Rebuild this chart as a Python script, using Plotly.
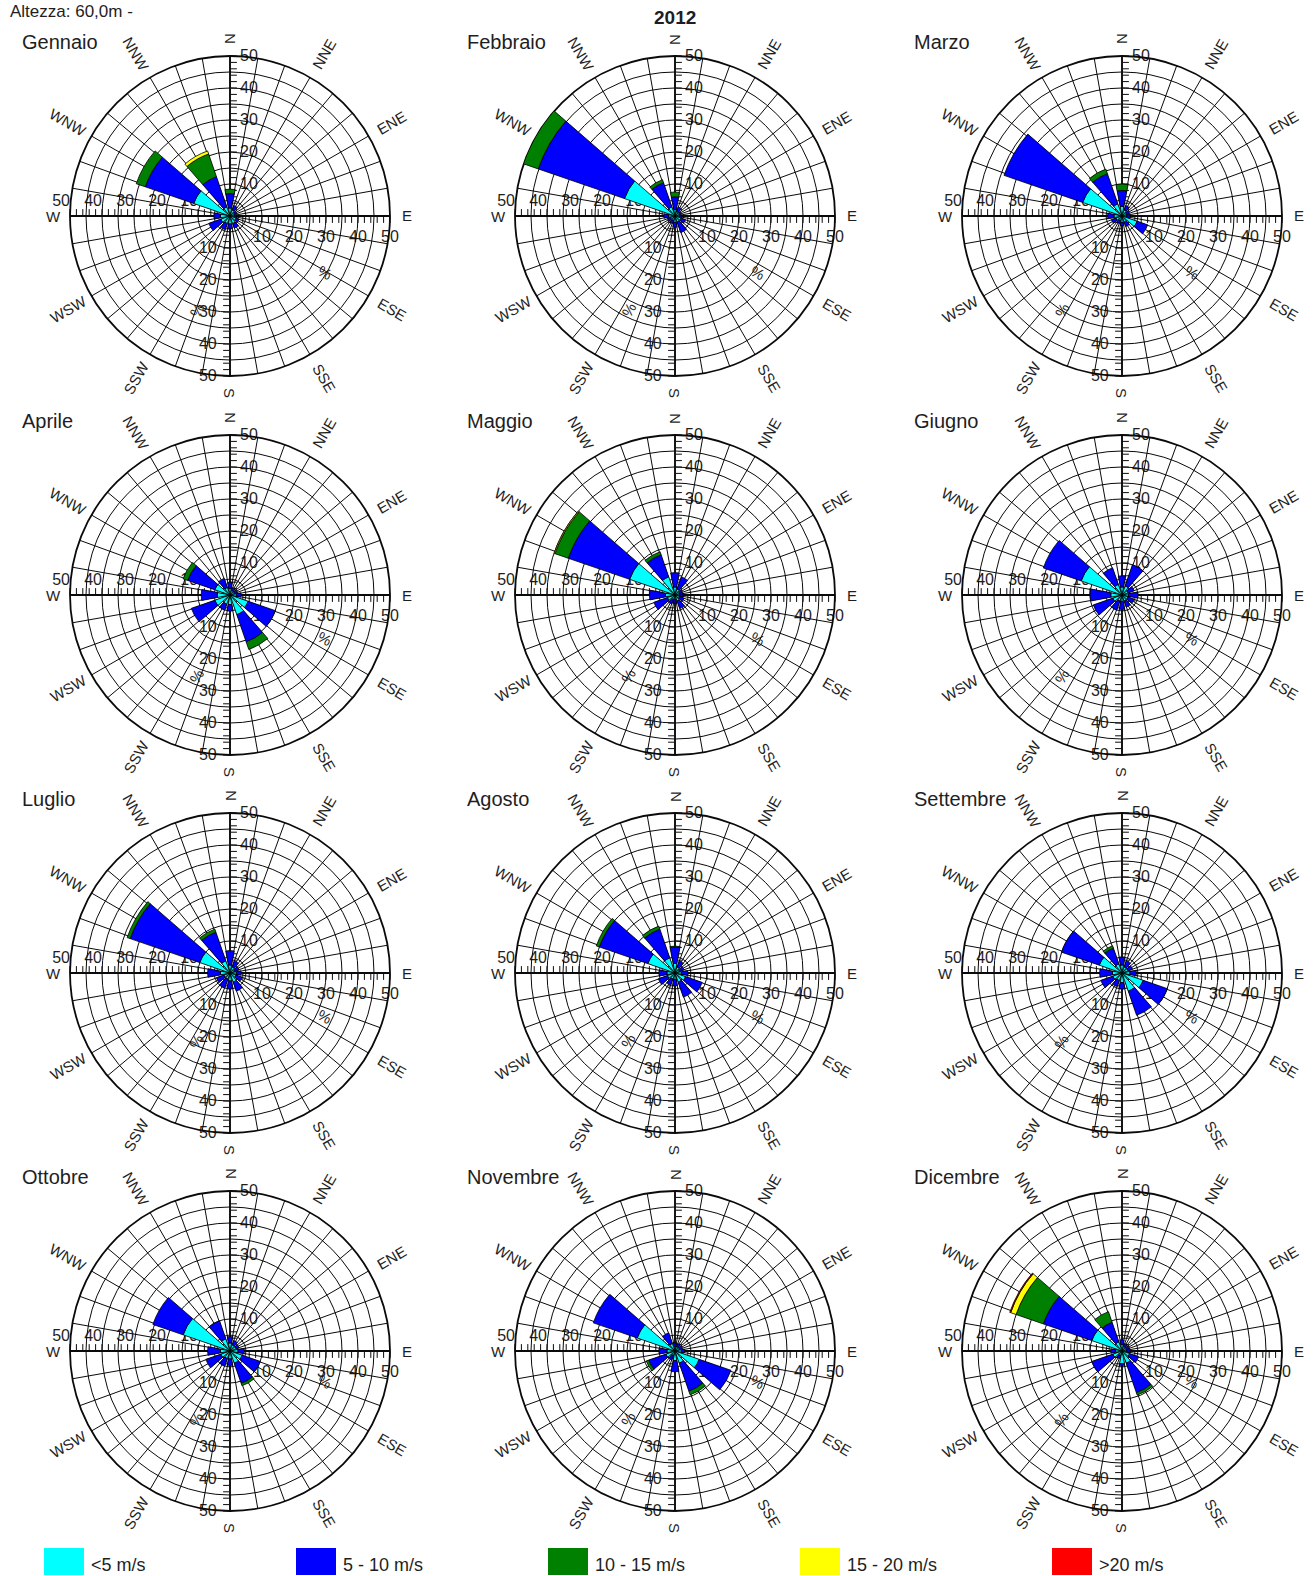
import math
import plotly.graph_objects as go

# ---------------------------------------------------------------------------
# Data: monthly wind roses, 12 sectors of 30 degrees, frequency in percent
# Column order follows `sectors`.
# ---------------------------------------------------------------------------
sectors = ["N", "NNE", "ENE", "E", "ESE", "SSE", "S", "SSW", "WSW", "W", "WNW", "NNW"]
sector_deg = [0, 30, 60, 90, 120, 150, 180, 210, 240, 270, 300, 330]

months = ["Gennaio", "Febbraio", "Marzo", "Aprile", "Maggio", "Giugno",
          "Luglio", "Agosto", "Settembre", "Ottobre", "Novembre", "Dicembre"]

speed_classes = ["<5 m/s", "5 - 10 m/s", "10 - 15 m/s", "15 - 20 m/s", ">20 m/s"]
class_colors = ["#00FFFF", "#0000FF", "#008000", "#FFFF00", "#FF0000"]

#            N    NNE  ENE  E    ESE  SSE  S    SSW  WSW  W    WNW   NNW
freq_lt5 = [
    [2.5, 2.0, 1.5, 1.5, 2.0, 2.5, 2.5, 2.5, 3.0, 3.0, 12.0, 3.0],   # Gennaio
    [2.0, 1.5, 1.5, 1.5, 2.0, 2.0, 2.0, 1.5, 1.5, 2.0, 16.7, 3.0],   # Febbraio
    [3.0, 2.0, 1.5, 1.5, 5.0, 2.0, 2.0, 1.5, 2.0, 2.5, 13.0, 4.0],   # Marzo
    [2.0, 1.5, 1.5, 2.0, 6.0, 6.5, 3.0, 3.0, 5.0, 4.0, 5.0, 2.5],    # Aprile
    [2.5, 2.0, 1.5, 1.5, 1.5, 2.0, 1.5, 1.5, 2.5, 3.0, 15.0, 6.0],   # Maggio
    [2.5, 3.0, 2.0, 2.0, 2.0, 2.0, 2.0, 2.0, 3.0, 3.5, 13.5, 3.5],   # Giugno
    [2.5, 2.0, 1.5, 2.0, 2.0, 3.0, 2.5, 2.0, 2.0, 3.0, 10.0, 4.0],   # Luglio
    [3.0, 2.0, 1.5, 2.0, 3.5, 3.0, 2.0, 2.0, 2.5, 2.5, 9.0, 5.0],    # Agosto
    [2.5, 2.0, 2.0, 2.5, 7.0, 6.0, 3.0, 2.5, 3.0, 3.0, 7.5, 3.0],    # Settembre
    [2.5, 2.0, 2.0, 2.5, 4.0, 4.0, 2.5, 2.5, 3.0, 3.0, 15.5, 4.0],   # Ottobre
    [1.5, 1.5, 1.5, 2.0, 8.0, 4.0, 3.0, 1.5, 3.0, 2.5, 12.5, 2.5],   # Novembre
    [2.0, 1.5, 1.5, 1.5, 2.5, 4.0, 4.0, 1.5, 3.0, 2.0, 10.0, 3.0],   # Dicembre
]
freq_5_10 = [
    [4.5, 1.5, 0.8, 0.5, 1.0, 1.5, 1.5, 2.0, 4.0, 2.0, 16.0, 10.0],
    [4.0, 1.5, 0.5, 0.5, 1.5, 3.5, 1.5, 1.0, 1.0, 1.5, 28.5, 8.0],
    [5.0, 1.5, 1.0, 1.0, 3.5, 1.5, 1.0, 1.0, 1.5, 2.0, 26.0, 10.0],
    [2.0, 1.0, 1.0, 1.5, 9.0, 9.0, 2.0, 2.0, 7.8, 5.0, 9.0, 3.0],
    [4.5, 4.0, 1.0, 1.0, 1.5, 2.5, 1.0, 1.5, 4.5, 5.0, 20.3, 7.3],
    [3.5, 7.0, 2.0, 3.0, 2.0, 2.0, 2.5, 3.0, 6.5, 6.5, 12.5, 5.5],
    [4.5, 2.0, 1.5, 1.5, 2.0, 3.0, 2.5, 3.0, 2.5, 4.0, 23.0, 9.5],
    [5.1, 2.0, 1.5, 2.0, 5.5, 5.0, 2.0, 2.0, 3.0, 2.5, 16.0, 9.5],
    [2.5, 2.0, 1.5, 2.0, 8.0, 8.0, 2.0, 2.0, 4.0, 4.0, 12.5, 5.2],
    [2.0, 1.5, 1.0, 2.0, 6.0, 6.7, 2.0, 2.5, 5.0, 4.0, 10.0, 6.0],
    [1.0, 1.0, 1.0, 1.0, 10.5, 9.3, 3.5, 1.5, 5.7, 2.5, 14.5, 3.5],
    [1.5, 1.0, 1.0, 1.0, 3.0, 9.8, 0.5, 1.0, 7.0, 1.5, 16.0, 6.5],
]
freq_10_15 = [
    [1.4, 0, 0, 0, 0, 0, 0, 0, 0, 0, 3.0, 7.5],
    [1.5, 0, 0, 0, 0, 0, 0, 0, 0, 0, 5.0, 1.0],
    [2.0, 0, 0, 0, 0, 0, 0, 0, 0, 0, 0, 1.5],
    [0, 0, 0, 0, 0, 2.5, 0, 0, 0, 0, 1.5, 0],
    [0, 0, 0, 0, 0, 0, 0, 0, 0, 0, 4.4, 1.0],
    [0, 0, 0, 0, 0, 0, 0, 0, 0, 0, 0, 0],
    [0, 0, 0, 0, 0, 0, 0, 0, 0, 0, 1.0, 1.0],
    [0.3, 0, 0, 0, 0, 0, 0, 0, 0, 0, 1.0, 1.0],
    [0, 0, 0, 0, 0, 0, 0, 0, 0, 0, 0, 0.8],
    [0, 0, 0, 0, 0, 0.8, 0, 0, 0, 0, 0, 0],
    [0, 0, 0, 0, 0, 1.2, 0, 0, 0.8, 0, 0, 0],
    [0, 0, 0, 0, 0, 0.8, 0, 0, 0, 0, 9.0, 3.5],
]
freq_15_20 = [
    [0, 0, 0, 0, 0, 0, 0, 0, 0, 0, 0, 1.0],
    [0, 0, 0, 0, 0, 0, 0, 0, 0, 0, 0.3, 0],
    [0, 0, 0, 0, 0, 0, 0, 0, 0, 0, 0, 0],
    [0, 0, 0, 0, 0, 0, 0, 0, 0, 0, 0, 0],
    [0, 0, 0, 0, 0, 0, 0, 0, 0, 0, 0.3, 0],
    [0, 0, 0, 0, 0, 0, 0, 0, 0, 0, 0, 0],
    [0, 0, 0, 0, 0, 0, 0, 0, 0, 0, 0, 0],
    [0, 0, 0, 0, 0, 0, 0, 0, 0, 0, 0, 0],
    [0, 0, 0, 0, 0, 0, 0, 0, 0, 0, 0, 0],
    [0, 0, 0, 0, 0, 0, 0, 0, 0, 0, 0, 0],
    [0, 0, 0, 0, 0, 0, 0, 0, 0, 0, 0, 0],
    [0, 0, 0, 0, 0, 0, 0, 0, 0, 0, 1.8, 0],
]
freq_gt20 = [
    [0, 0, 0, 0, 0, 0, 0, 0, 0, 0, 0, 0],
    [0, 0, 0, 0, 0, 0, 0, 0, 0, 0, 0, 0],
    [0, 0, 0, 0, 0, 0, 0, 0, 0, 0, 0, 0],
    [0, 0, 0, 0, 0, 0, 0, 0, 0, 0, 0, 0],
    [0, 0, 0, 0, 0, 0, 0, 0, 0, 0, 0, 0],
    [0, 0, 0, 0, 0, 0, 0, 0, 0, 0, 0, 0],
    [0, 0, 0, 0, 0, 0, 0, 0, 0, 0, 0, 0],
    [0, 0, 0, 0, 0, 0, 0, 0, 0, 0, 0, 0],
    [0, 0, 0, 0, 0, 0, 0, 0, 0, 0, 0, 0],
    [0, 0, 0, 0, 0, 0, 0, 0, 0, 0, 0, 0],
    [0, 0, 0, 0, 0, 0, 0, 0, 0, 0, 0, 0],
    [0, 0, 0, 0, 0, 0, 0, 0, 0, 0, 0.3, 0],
]
class_freqs = [freq_lt5, freq_5_10, freq_10_15, freq_15_20, freq_gt20]

radial_max = 50
ring_step = 5
ruler_step = 2
label_step = 10

# ---------------------------------------------------------------------------
# Page geometry (pixels)
# ---------------------------------------------------------------------------
W, H = 1315, 1576
col_cx = [230, 675, 1122]
row_cy = [216, 595, 973, 1351]
R = 160  # radius of the 50 % ring

FONT = "Arial, Liberation Sans, sans-serif"
INK = "#0a0a0a"
TEXT = "#1e1e1e"


def px(x):
    return x / W


def py(y):
    return 1 - y / H


def polar_name(n):
    return "polar" if n == 1 else f"polar{n}"


fig = go.Figure()
layout_polars = {}
annotations = []

# radial axes drawn along the four cardinal directions:
# (plotly angle, tick-label angle)
cardinal_axes = [(90, 90), (0, 0), (270, -90), (180, 180)]

ruler_vals = list(range(ruler_step, radial_max + 1, ruler_step))
ruler_text = [str(v) if v % label_step == 0 else "" for v in ruler_vals]

for k, month in enumerate(months):
    cx = col_cx[k % 3]
    cy = row_cy[k // 3]
    domain = dict(x=[px(cx - R), px(cx + R)], y=[py(cy + R), py(cy - R)])
    base = 5 * k

    # overlay subplots carrying the graduated cardinal axes
    for j, (ang, tang) in enumerate(cardinal_axes):
        sid = polar_name(base + j + 1)
        layout_polars[sid] = dict(
            domain=domain,
            bgcolor="rgba(0,0,0,0)",
            radialaxis=dict(
                range=[0, radial_max], angle=ang, side="clockwise", tickangle=tang,
                tickvals=ruler_vals, ticktext=ruler_text,
                ticks="outside", ticklen=6, tickwidth=1.1, tickcolor=INK,
                tickfont=dict(family=FONT, size=16, color=TEXT),
                showgrid=False, showline=True, linecolor=INK, linewidth=1.8,
            ),
            angularaxis=dict(visible=False, direction="clockwise", rotation=90),
        )
        fig.add_trace(go.Scatterpolar(r=[0], theta=[0], mode="markers",
                                      marker=dict(opacity=0), hoverinfo="skip",
                                      showlegend=False, subplot=sid))

    # main subplot: rings, spokes and stacked sector bars
    sid = polar_name(base + 5)
    layout_polars[sid] = dict(
        domain=domain,
        bgcolor="rgba(0,0,0,0)",
        barmode="stack",
        radialaxis=dict(
            range=[0, radial_max],
            tickvals=list(range(ring_step, radial_max + 1, ring_step)),
            showticklabels=False, ticks="", showline=False,
            gridcolor=INK, gridwidth=1.4, layer="below traces",
        ),
        angularaxis=dict(
            direction="clockwise", rotation=90,
            tickvals=list(range(0, 360, 10)), showticklabels=False, ticks="",
            gridcolor=INK, gridwidth=1.4,
            showline=True, linecolor=INK, linewidth=1.8, layer="below traces",
        ),
    )
    for name, color, freq in zip(speed_classes, class_colors, class_freqs):
        vals = [v if v > 0 else None for v in freq[k]]
        fig.add_trace(go.Barpolar(
            r=vals, theta=sector_deg, width=[22] * len(sector_deg),
            name=name, marker=dict(color=color, line=dict(color="#000", width=0.8)),
            showlegend=False, subplot=sid,
        ))

    # sector names around the rim, turned along the radius
    for name, b in zip(sectors, sector_deg):
        rl = R + (17 if len(name) == 1 else 27)
        x = cx + rl * math.sin(math.radians(b))
        y = cy - rl * math.cos(math.radians(b))
        ta = b - 90 if 0 < b <= 180 else (b - 270 if b > 180 else -90)
        annotations.append(dict(
            x=px(x), y=py(y), xref="paper", yref="paper", text=name,
            showarrow=False, textangle=ta, xanchor="center", yanchor="middle",
            font=dict(family=FONT, size=15, color=TEXT),
        ))

    # unit marks on two diagonals
    for b, rl, ta in [(118, 93, 28), (210, 94, -60)]:
        x = cx + rl * math.sin(math.radians(b))
        y = cy - rl * math.cos(math.radians(b))
        annotations.append(dict(
            x=px(x), y=py(y), xref="paper", yref="paper", text="%",
            showarrow=False, textangle=ta,
            font=dict(family=FONT, size=15, color=TEXT),
        ))

    # month title
    annotations.append(dict(
        x=px(cx - 210), y=py(cy - 174), xref="paper", yref="paper", text=month,
        showarrow=False, xanchor="left", yanchor="middle",
        font=dict(family=FONT, size=20, color=TEXT),
    ))

# page header
annotations.append(dict(x=px(8), y=py(12), xref="paper", yref="paper",
                        text="Altezza: 60,0m -", showarrow=False,
                        xanchor="left", yanchor="middle",
                        font=dict(family=FONT, size=17, color=TEXT)))
annotations.append(dict(x=px(675), y=py(17), xref="paper", yref="paper",
                        text="<b>2012</b>", showarrow=False,
                        xanchor="center", yanchor="middle",
                        font=dict(family=FONT, size=19, color=TEXT)))

# speed-class key along the bottom
shapes = []
key_x0, key_step, key_w = 44, 252, 40
key_y0, key_y1 = 1548, 1575
for i, (name, color) in enumerate(zip(speed_classes, class_colors)):
    x0 = key_x0 + i * key_step
    shapes.append(dict(type="rect", xref="paper", yref="paper",
                       x0=px(x0), x1=px(x0 + key_w), y0=py(key_y1), y1=py(key_y0),
                       fillcolor=color, line=dict(width=0)))
    annotations.append(dict(x=px(x0 + key_w + 5), y=py((key_y0 + key_y1) / 2 + 3),
                            xref="paper", yref="paper", text=name, showarrow=False,
                            xanchor="left", yanchor="middle",
                            font=dict(family=FONT, size=18, color=TEXT)))

fig.update_layout(
    width=W, height=H,
    margin=dict(l=0, r=0, t=0, b=0),
    paper_bgcolor="white", plot_bgcolor="white",
    showlegend=False,
    annotations=annotations, shapes=shapes,
    **layout_polars,
)

fig.write_html("out.html")
